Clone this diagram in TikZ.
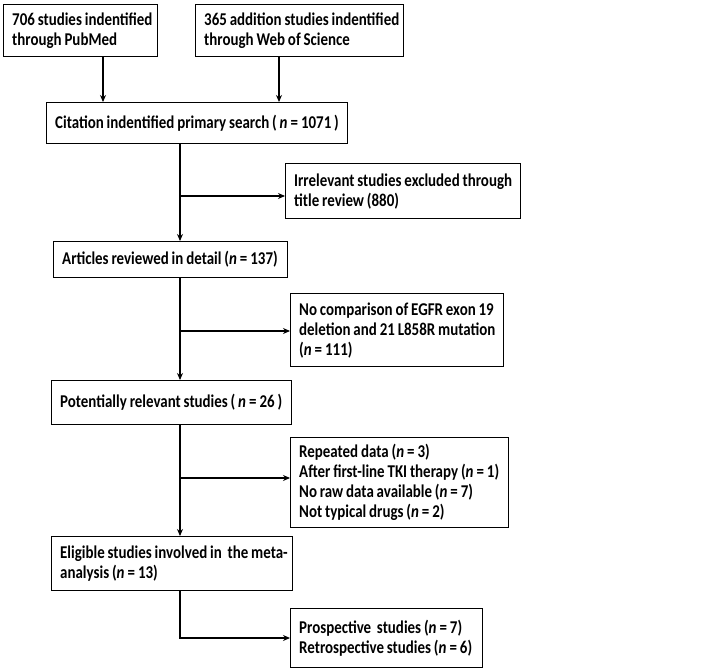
\documentclass[tikz,border=0pt]{standalone}
\usepackage{fontspec}
\setmainfont[FakeStretch=0.83,WordSpace=0.85]{Carlito}
\usetikzlibrary{arrows.meta}
\newcommand{\nn}[1]{\textit{n}\kern3pt=\kern3pt#1}
\begin{document}
\begin{tikzpicture}[x=1pt,y=-1pt,
  frame/.style={draw, line width=1.3pt, anchor=north west, inner sep=0pt},
  txt/.style={anchor=west, align=left, inner sep=0pt,
    font=\fontsize{18}{20}\selectfont\bfseries},
  arr/.style={line width=1.1pt, -{Stealth[length=7pt,width=6pt]}}]
\useasboundingbox (0,0) rectangle (709,671);
\newcommand{\bx}[6]{\node[frame, minimum width=#4pt, minimum height=#5pt] (#1) at (#2,#3) {};
  \node[txt] (#1t) at ([xshift=9pt]#1.west) {#6};}
\bx{b1}{3}{4}{154}{52}{706 studies indentified\\through PubMed}
\bx{b2}{195}{4}{208}{52}{365 addition studies indentified\\through Web of Science}
\bx{b3}{46}{102}{301}{41}{Citation indentified primary search ( \nn{1071} )}
\bx{b4}{285}{163}{235}{55}{Irrelevant studies excluded through\\title review (880)}
\bx{b5}{53}{241}{234}{36}{Articles reviewed in detail (\nn{137})}
\bx{b6}{290}{293}{213}{73}{No comparison of EGFR exon 19\\deletion and 21 L858R mutation\\(\nn{111})}
\bx{b7}{51}{380}{240}{44}{Potentially relevant studies ( \nn{26} )}
\bx{b8}{290}{437}{218}{90}{Repeated data (\nn{3})\\After first-line TKI therapy (\nn{1})\\No raw data available (\nn{7})\\Not typical drugs (\nn{2})}
\bx{b9}{51}{536}{241}{54}{Eligible studies involved in\ \ the meta-\\analysis (\nn{13})}
\bx{b10}{290}{608}{192}{59}{Prospective\ \ studies (\nn{7})\\Retrospective studies (\nn{6})}
\coordinate (c1) at (103,0);
\coordinate (c2) at (279,0);
\coordinate (m) at (180,0);
\coordinate (j1) at (180,196);
\coordinate (j2) at (180,331);
\coordinate (j3) at (180,478);
\coordinate (j4) at (180,638);
\draw[arr] (c1 |- b1.south) -- (c1 |- b3.north);
\draw[arr] (c2 |- b2.south) -- (c2 |- b3.north);
\draw[arr] (m |- b3.south) -- (m |- b5.north);
\draw[arr] (j1) -- (j1 -| b4.west);
\draw[arr] (m |- b5.south) -- (m |- b7.north);
\draw[arr] (j2) -- (j2 -| b6.west);
\draw[arr] (m |- b7.south) -- (m |- b9.north);
\draw[arr] (j3) -- (j3 -| b8.west);
\draw[arr] (m |- b9.south) -- (j4) -- (j4 -| b10.west);
\end{tikzpicture}
\end{document}
